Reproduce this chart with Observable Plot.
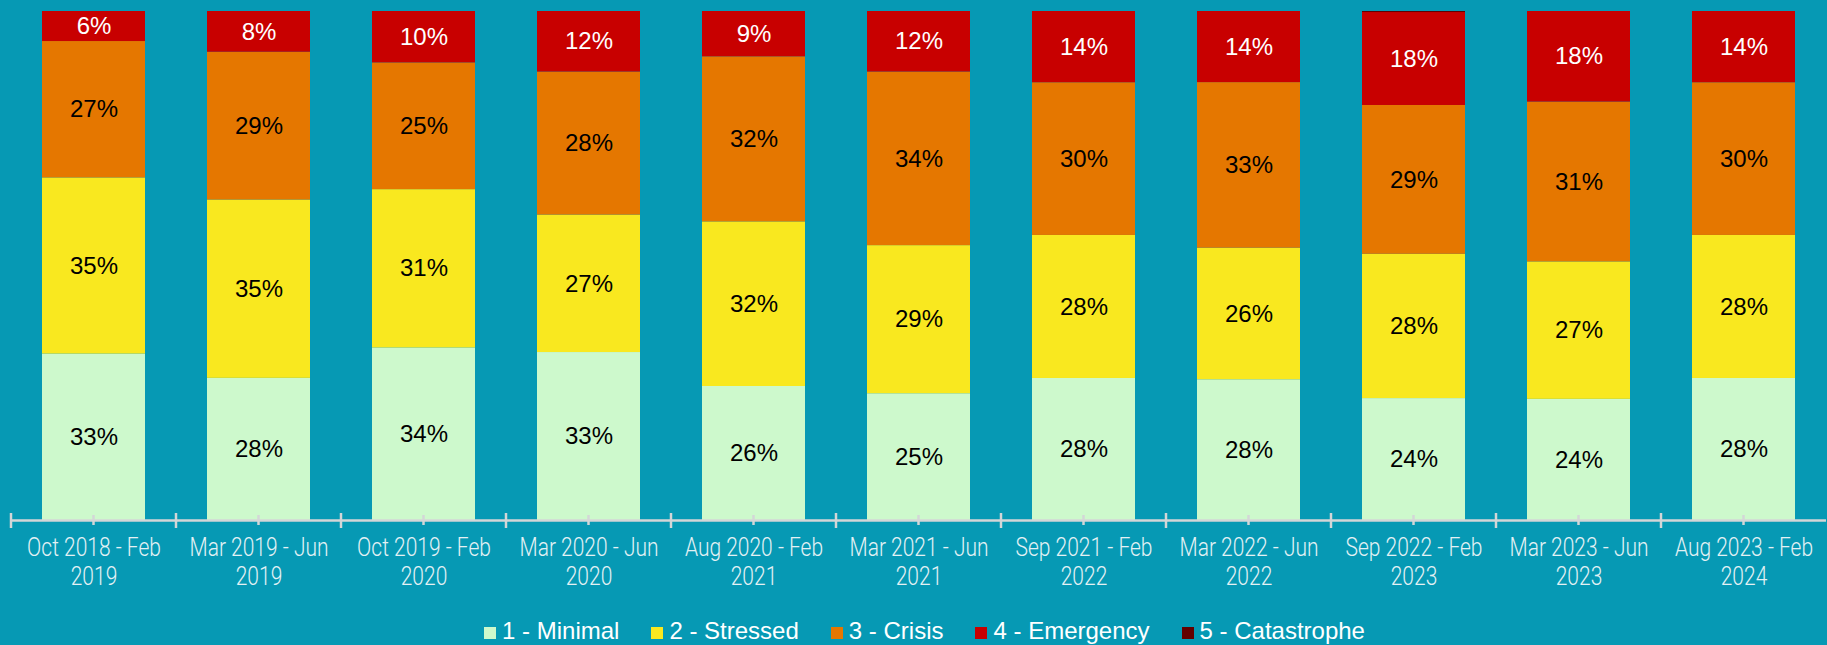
<!DOCTYPE html>
<html>
<head>
<meta charset="utf-8">
<script src="https://cdn.jsdelivr.net/npm/d3@7"></script>
<script src="https://cdn.jsdelivr.net/npm/@observablehq/plot@0.6"></script>
<style>
  html, body { margin: 0; padding: 0; background: #0699b4; width: 1827px; height: 645px; overflow: hidden; }
  #chart { position: absolute; left: 0; top: 0; }
  #legend { position: absolute; left: 0; top: 617px; width: 1827px; display: flex; justify-content: center;
            padding-left: 22px; box-sizing: border-box;
            font-family: "Liberation Sans", Arial, sans-serif; font-size: 24px; line-height: 27px; color: #ffffff; }
  #legend .item { display: inline-block; white-space: nowrap; margin: 0 16px; }
  #legend .sw { display: inline-block; width: 12px; height: 12px; margin-right: 6px; vertical-align: baseline; }
</style>
</head>
<body>
<div id="chart"></div>
<div id="legend"></div>
<script>
const categories = ["Oct 2018 - Feb 2019", "Mar 2019 - Jun 2019", "Oct 2019 - Feb 2020", "Mar 2020 - Jun 2020",
  "Aug 2020 - Feb 2021", "Mar 2021 - Jun 2021", "Sep 2021 - Feb 2022", "Mar 2022 - Jun 2022",
  "Sep 2022 - Feb 2023", "Mar 2023 - Jun 2023", "Aug 2023 - Feb 2024"];
const levels = ["1 - Minimal", "2 - Stressed", "3 - Crisis", "4 - Emergency", "5 - Catastrophe"];
const colors = ["#cdf9cc", "#f9e81f", "#e57700", "#c80000", "#640000"];

const minimal     = [32.7, 27.9, 33.9, 33.0, 26.3, 24.9, 27.9, 27.7, 24.0, 23.8, 27.9];
const stressed    = [34.6, 35.0, 31.1, 27.0, 32.3, 29.1, 28.1, 25.9, 28.4, 27.0, 28.1];
const crisis      = [26.8, 29.0, 24.9, 28.1, 32.4, 34.1, 30.0, 32.6, 29.3, 31.4, 30.0];
const emergency   = [5.9, 8.0, 10.1, 11.9, 8.9, 11.9, 14.0, 14.0, 18.3, 17.8, 14.0];
const catastrophe = [0, 0, 0, 0, 0, 0, 0, 0, 0.2, 0, 0];

const series = [minimal, stressed, crisis, emergency, catastrophe];
const data = [];
categories.forEach((c, i) => {
  levels.forEach((lv, j) => data.push({period: c, level: lv, value: series[j][i]}));
});

const pct = v => v >= 1 ? Math.round(v) + "%" : null;

function axisTicks(index, scales) {
  const x = scales.x, y0 = scales.y(0);
  const step = x(categories[1]) - x(categories[0]);
  const bw = typeof x.bandwidth === "function" ? x.bandwidth() : (x.bandwidth ?? step * 0.625);
  const g = d3.create("svg:g").attr("stroke", "#d3d6d7").attr("stroke-width", 2.5);
  categories.forEach(c => {
    const cx = x(c) + bw / 2;
    g.append("line").attr("x1", cx).attr("x2", cx).attr("y1", y0 - 5).attr("y2", y0 + 5);
    const bx = cx - step / 2;
    g.append("line").attr("x1", bx).attr("x2", bx).attr("y1", y0 - 7).attr("y2", y0 + 8);
  });
  return g.node();
}

const textOpts = {fontSize: 24, fontFamily: "'Liberation Sans', Arial, sans-serif"};

const chart = Plot.plot({
  width: 1827,
  height: 605,
  marginTop: 11,
  marginBottom: 85,
  marginLeft: 11,
  marginRight: 1,
  style: {background: "transparent", overflow: "visible"},
  x: {domain: categories, paddingInner: 0.375, paddingOuter: 0.1875, label: null},
  y: {domain: [0, 1], axis: null},
  color: {domain: levels, range: colors},
  marks: [
    Plot.barY(data, {x: "period", y: "value", fill: "level", z: "level", offset: "normalize"}),
    Plot.ruleY([0], {stroke: "#d3d6d7", strokeWidth: 2.5}),
    axisTicks,
    Plot.text(data, Plot.stackY({x: "period", y: "value", z: "level", offset: "normalize",
      text: d => d.level === "4 - Emergency" ? null : pct(d.value), fill: "black", ...textOpts})),
    Plot.text(data, Plot.stackY({x: "period", y: "value", z: "level", offset: "normalize",
      text: d => d.level === "4 - Emergency" ? pct(d.value) : null, fill: "white", ...textOpts})),
    Plot.axisX({
      tickSize: 0, tickPadding: 15, label: null,
      tickFormat: d => { const k = d.lastIndexOf(" "); return d.slice(0, k) + "\n" + d.slice(k + 1); },
      fontSize: 25, lineHeight: 1.16, fill: "#e3f1f4",
      fontFamily: "Roboto, sans-serif", fontWeight: 300
    })
  ]
});

document.getElementById("chart").appendChild(chart);

chart.querySelectorAll('g[aria-label="x-axis tick label"] text').forEach(t => {
  const tr = t.getAttribute("transform") || "";
  const x = t.getAttribute("x"), y = t.getAttribute("y");
  let pre = tr;
  if (x !== null || y !== null) {
    pre += ` translate(${+x || 0},${+y || 0})`;
    t.removeAttribute("x"); t.removeAttribute("y");
  }
  t.setAttribute("transform", `${pre} scale(0.84,1)`);
});

const legend = d3.select("#legend");
levels.forEach((lv, j) => {
  const it = legend.append("span").attr("class", "item");
  it.append("span").attr("class", "sw").style("background", colors[j]);
  it.append("span").text(lv);
});
</script>
</body>
</html>
